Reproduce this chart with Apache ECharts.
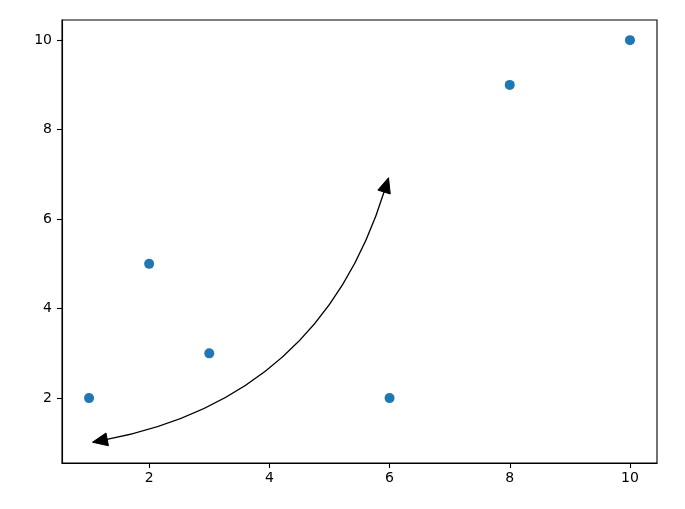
<!DOCTYPE html>
<html>
<head>
<meta charset="utf-8">
<script src="https://cdn.jsdelivr.net/npm/echarts@6/dist/echarts.min.js"></script>
<style>html,body{margin:0;padding:0;background:#fff}#c{width:685px;height:509px}</style>
</head>
<body>
<div id="c"></div>
<script>
// data
const xValues = [1, 2, 3, 6, 8, 10];
const yValues = [2, 5, 3, 2, 9, 10];
const arrowFrom = [1, 1];
const arrowTo = [6, 7];
const arrowRad = 0.3;
const xTicks = [2, 4, 6, 8, 10];
const yTicks = [2, 4, 6, 8, 10];
const xRange = [0.55, 10.45];
const yRange = [0.55, 10.45];

const chart = echarts.init(document.getElementById('c'), null, {renderer: 'canvas'});
const font = '"DejaVu Sans", sans-serif';

function renderArrow(params, api) {
  const a = api.coord([api.value(0), api.value(1)]);
  const b = api.coord([api.value(2), api.value(3)]);
  // matplotlib arc3 in display coords (y up)
  const dx = b[0] - a[0];
  const dyUp = -(b[1] - a[1]);
  const mx = (a[0] + b[0]) / 2, my = (a[1] + b[1]) / 2;
  const cx = mx + arrowRad * dyUp;
  const cy = my + arrowRad * dx;
  const shrink = 3.5;
  function unit(p, q) { const l = Math.hypot(q[0]-p[0], q[1]-p[1]); return [(q[0]-p[0])/l, (q[1]-p[1])/l]; }
  const ua = unit(a, [cx, cy]);
  const ub = unit([cx, cy], b);
  const A = [a[0] + ua[0]*shrink, a[1] + ua[1]*shrink];
  const B = [b[0] - ub[0]*shrink, b[1] - ub[1]*shrink];
  const headLen = 15, headHalf = 6.5;
  function head(tip, dir) {
    const base = [tip[0] - dir[0]*headLen, tip[1] - dir[1]*headLen];
    const nx = -dir[1], ny = dir[0];
    return [tip, [base[0] + nx*headHalf, base[1] + ny*headHalf], [base[0] - nx*headHalf, base[1] - ny*headHalf]];
  }
  const hA = head(A, [-ua[0], -ua[1]]);
  const hB = head(B, ub);
  const A2 = [A[0] + ua[0]*headLen*0.9, A[1] + ua[1]*headLen*0.9];
  const B2 = [B[0] - ub[0]*headLen*0.9, B[1] - ub[1]*headLen*0.9];
  return {
    type: 'group',
    children: [
      {type: 'bezierCurve', shape: {x1: A2[0], y1: A2[1], x2: B2[0], y2: B2[1], cpx1: cx, cpy1: cy},
       style: {stroke: '#000', lineWidth: 1.4, fill: null}},
      {type: 'polygon', shape: {points: hA}, style: {fill: '#000', stroke: '#000', lineWidth: 1}},
      {type: 'polygon', shape: {points: hB}, style: {fill: '#000', stroke: '#000', lineWidth: 1}}
    ]
  };
}

const axisCommon = {
  axisLine: {show: true, onZero: false, lineStyle: {color: '#000', width: 1.1}},
  axisTick: {show: true, length: 5, lineStyle: {color: '#000', width: 1.1}},
  splitLine: {show: false},
};

chart.setOption({
  animation: false,
  backgroundColor: '#fff',
  grid: {left: 62, top: 20, right: 28, bottom: 46, show: true, borderColor: '#000', borderWidth: 1.1, containLabel: false},
  xAxis: Object.assign({}, axisCommon, {
    type: 'value', min: xRange[0], max: xRange[1],
    axisTick: Object.assign({}, axisCommon.axisTick, {customValues: xTicks}),
    axisLabel: {customValues: xTicks, color: '#000', fontSize: 14, fontFamily: font, margin: 8}
  }),
  yAxis: Object.assign({}, axisCommon, {
    type: 'value', min: yRange[0], max: yRange[1],
    axisTick: Object.assign({}, axisCommon.axisTick, {customValues: yTicks}),
    axisLabel: {customValues: yTicks, color: '#000', fontSize: 14, fontFamily: font, margin: 10}
  }),
  series: [
    {type: 'scatter', data: xValues.map((x, i) => [x, yValues[i]]), symbolSize: 10,
     itemStyle: {color: '#1f77b4', opacity: 1}},
    {type: 'custom', renderItem: renderArrow, data: [[arrowFrom[0], arrowFrom[1], arrowTo[0], arrowTo[1]]],
     encode: {x: [0, 2], y: [1, 3]}, z: 3, silent: true}
  ]
});
</script>
</body>
</html>
